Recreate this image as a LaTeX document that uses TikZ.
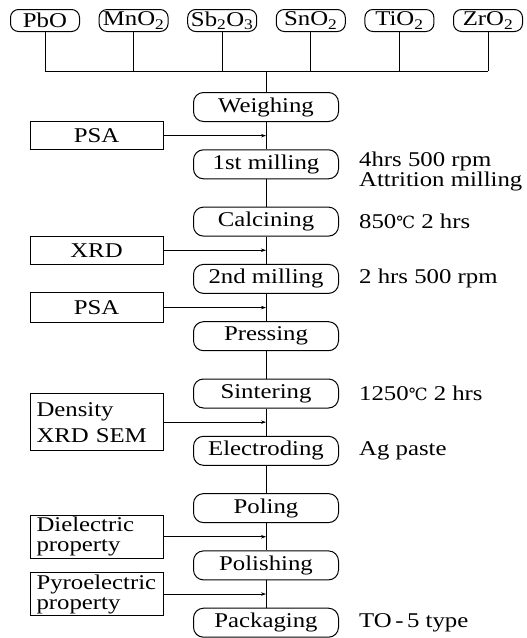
\documentclass[tikz,border=0pt]{standalone}
\usepackage{fontspec}
\setmainfont{Liberation Serif}[FakeStretch=1.18]
\newfontfamily\degfont{DejaVu Serif}[Scale=0.8]
\usepackage{tikz}
\usetikzlibrary{positioning, arrows.meta, calc}
\newcommand{\dgC}{{\degfont ℃}}
\tikzset{
  box/.style={rectangle, rounded corners=10pt, draw, minimum width=145pt,
              minimum height=29pt, inner sep=0pt, line width=1pt},
  rbox/.style={rectangle, rounded corners=8pt, draw, minimum width=69pt,
               minimum height=22pt, inner sep=0pt, line width=1pt},
  tbox/.style={rectangle, draw, minimum width=133pt, minimum height=28pt,
               inner sep=0pt, line width=1pt},
  mbox/.style={tbox, align=left, text width=120pt, inner xsep=6.5pt},
  arr/.style={-{Stealth[length=5pt, width=3.5pt]}, line width=0.7pt},
  link/.style={line width=0.8pt},
  note/.style={align=left, inner sep=0pt},
}

\begin{document}
\begin{tikzpicture}[x=1pt, y=-1pt, node distance=27.3pt and 18.6pt,
    every node/.style={font=\fontsize{21pt}{20pt}\selectfont}]
  \useasboundingbox (0,0) rectangle (527,638);
  % raw materials
  \node[rbox] (pbo) at (45,20.5) {PbO};
  \node[rbox, right=of pbo] (mno) {MnO\textsubscript{2}};
  \node[rbox, right=of mno] (sbo) {Sb\textsubscript{2}O\textsubscript{3}};
  \node[rbox, right=of sbo] (sno) {SnO\textsubscript{2}};
  \node[rbox, right=of sno] (tio) {TiO\textsubscript{2}};
  \node[rbox, right=of tio] (zro) {ZrO\textsubscript{2}};
  % process steps
  \node[box] (weigh) at (266,107) {Weighing};
  \node[box, below=of weigh] (mill1) {1st milling};
  \node[box, below=of mill1] (calcine) {Calcining};
  \node[box, below=of calcine] (mill2) {2nd milling};
  \node[box, below=of mill2] (press) {Pressing};
  \node[box, below=of press] (sinter) {Sintering};
  \node[box, below=of sinter] (electro) {Electroding};
  \node[box, below=of electro] (pole) {Poling};
  \node[box, below=of pole] (polish) {Polishing};
  \node[box, below=of polish] (pack) {Packaging};
  % mixing bus
  \coordinate (bus) at ([yshift=21pt]weigh.north);
  \foreach \m in {pbo,mno,sbo,sno,tio,zro}
    \draw[link] (\m) -- (\m |- bus);
  \draw[link] (pbo |- bus) -- (zro |- bus);
  \draw[link] (bus) -- (weigh);
  \foreach \a/\b in {weigh/mill1, mill1/calcine, calcine/mill2, mill2/press,
                     press/sinter, sinter/electro, electro/pole, pole/polish,
                     polish/pack}
    \draw[link] (\a) -- (\b);
  % checks on the left
  \coordinate (c1) at ($(weigh.south)!0.5!(mill1.north)$);
  \coordinate (c2) at ($(calcine.south)!0.5!(mill2.north)$);
  \coordinate (c3) at ($(mill2.south)!0.5!(press.north)$);
  \coordinate (c4) at ($(sinter.south)!0.5!(electro.north)$);
  \coordinate (c5) at ($(pole.south)!0.5!(polish.north)$);
  \coordinate (c6) at ($(polish.south)!0.5!(pack.north)$);
  \node[tbox] (psa1) at ([xshift=-169.5pt]c1) {PSA};
  \node[tbox] (xrd) at ([xshift=-169.5pt]c2) {XRD};
  \node[tbox, minimum height=30pt] (psa2) at ([xshift=-169.5pt]c3) {PSA};
  \node[mbox, minimum height=57pt] (dens) at ([xshift=-169.5pt]c4)
        {Density\\[6pt]XRD SEM};
  \node[mbox, minimum height=43pt] (diel) at ([xshift=-169.5pt]c5)
        {Dielectric\\property};
  \node[mbox, minimum height=43pt] (pyro) at ([xshift=-169.5pt]c6)
        {Pyroelectric\\property};
  \foreach \t in {psa1,xrd,psa2,dens,diel,pyro}
    \draw[arr] (\t) -- (\t -| weigh);
  % conditions on the right
  \node[note, right=20pt of mill1, yshift=-7pt] (n1)
        {4hrs 500 rpm\\Attrition milling};
  \node[note, right=20pt of calcine] (n2) {850\dgC\ 2 hrs};
  \node[note, right=20pt of mill2] (n3) {2 hrs 500 rpm};
  \node[note, right=20pt of sinter] (n4) {1250\dgC\ 2 hrs};
  \node[note, right=20pt of electro] (n5) {Ag paste};
  \node[note, right=20pt of pack] (n6) {TO\,-\,5 type};
\end{tikzpicture}
\end{document}
